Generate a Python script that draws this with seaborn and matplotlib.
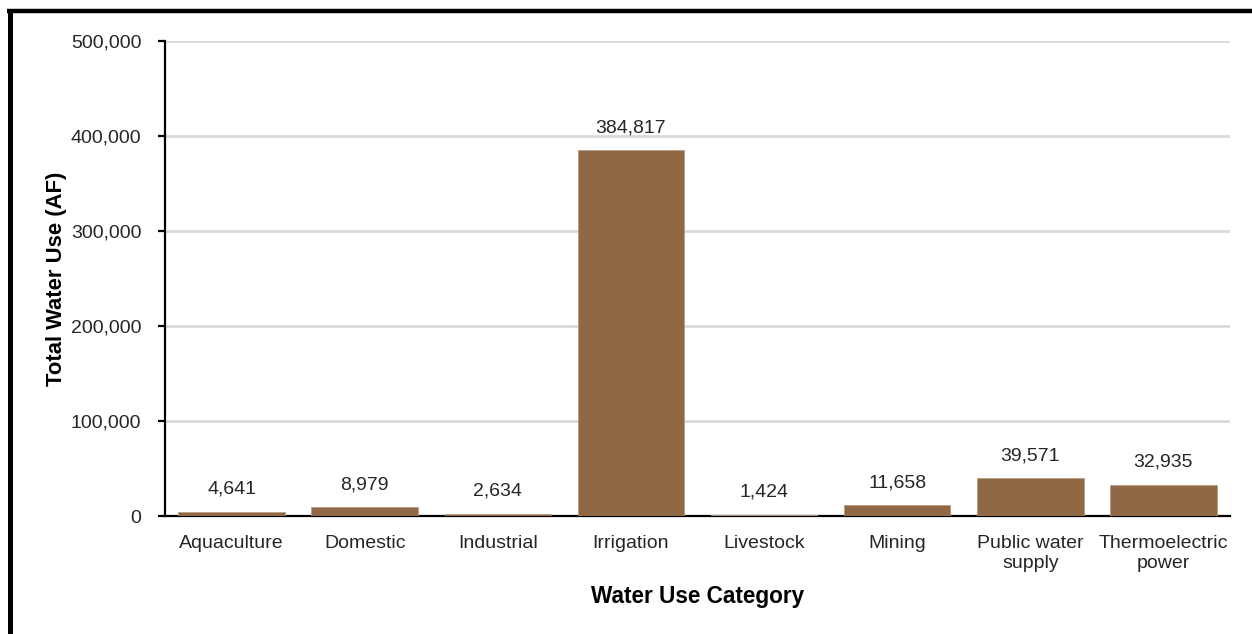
import matplotlib
matplotlib.use("Agg")
import matplotlib.pyplot as plt
from matplotlib.lines import Line2D
from matplotlib.ticker import FuncFormatter
import seaborn as sns
import pandas as pd

categories = ["Aquaculture", "Domestic", "Industrial", "Irrigation", "Livestock",
              "Mining", "Public water\nsupply", "Thermoelectric\npower"]
water_use = [4641, 8979, 2634, 384817, 1424, 11658, 39571, 32935]
y_ticks = [0, 100000, 200000, 300000, 400000, 500000]

df = pd.DataFrame({"category": categories, "use": water_use})

sns.set_theme(style="white")
plt.rcParams["font.family"] = ["Liberation Sans", "DejaVu Sans"]
plt.rcParams["text.color"] = "#262626"

fig = plt.figure(figsize=(12.52, 6.34), dpi=100)
ax = fig.add_axes([0.1318, 0.1861, 0.9824 - 0.1318, 0.9353 - 0.1861])

sns.barplot(data=df, x="category", y="use", color="#916846", width=0.8,
            edgecolor="#b89a80", linewidth=0.6, saturation=1, ax=ax, zorder=3)

for i, v in enumerate(water_use):
    ax.annotate(f"{v:,}", (i, v), xytext=(0, 10), textcoords="offset points",
                ha="center", va="bottom", fontsize=14, color="#262626")

ax.set_ylim(0, 500000)
ax.set_xlim(-0.5, len(categories) - 0.5)
ax.set_yticks(y_ticks)
ax.yaxis.set_major_formatter(FuncFormatter(lambda v, p: f"{int(v):,}"))
ax.yaxis.grid(True, color="#d9d9d9", linewidth=2, zorder=0)
ax.set_axisbelow(True)

for side in ["top", "right"]:
    ax.spines[side].set_visible(False)
for side in ["left", "bottom"]:
    ax.spines[side].set_color("black")
    ax.spines[side].set_linewidth(1.6)

ax.tick_params(axis="y", which="major", left=True, length=5, width=1.6,
               color="black", labelsize=14, labelcolor="#262626", pad=12)
ax.tick_params(axis="x", bottom=False, labelsize=14, labelcolor="#262626", pad=8)

ax.set_xlabel("Water Use Category", fontsize=16.3, fontweight="bold",
              color="black", labelpad=9)
ax.set_ylabel("Total Water Use (AF)", fontsize=15.8, fontweight="bold",
              color="black", labelpad=3)

# frame lines along the top and left edges of the figure
H = 634.0
W = 1252.0
fig.add_artist(Line2D([7 / W, 1.0], [1 - 11 / H, 1 - 11 / H], color="black",
                      linewidth=3.2, transform=fig.transFigure, solid_capstyle="butt"))
fig.add_artist(Line2D([9.5 / W, 9.5 / W], [1 - 9 / H, 0.0], color="black",
                      linewidth=3.6, transform=fig.transFigure, solid_capstyle="butt"))

fig.savefig("out.png", dpi=100)
